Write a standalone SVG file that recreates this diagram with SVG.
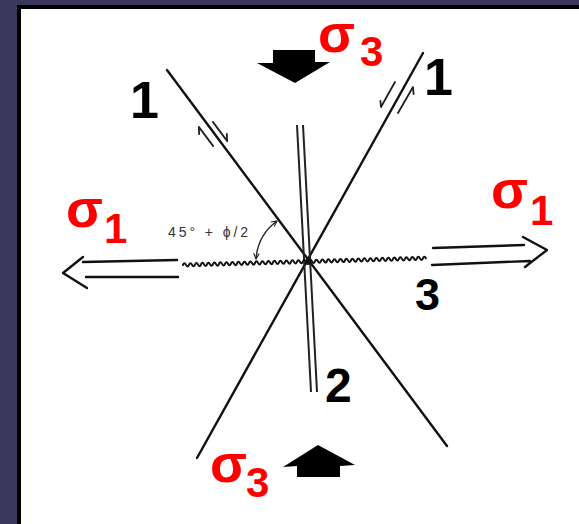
<svg xmlns="http://www.w3.org/2000/svg" width="579" height="524" viewBox="0 0 579 524">
<style>
.ln{stroke:#111;stroke-width:2.4;fill:none;stroke-linecap:round}
.dl{stroke:#222;stroke-width:2;fill:none}
.sl{stroke:#222;stroke-width:1.8;fill:none;stroke-linecap:round;stroke-linejoin:round}
.wv{stroke:#111;stroke-width:2;fill:none;stroke-linecap:round}
.ar{stroke:#111;stroke-width:2.4;fill:none;stroke-linecap:round;stroke-linejoin:round}
.sig{font-family:"Liberation Sans",Arial,sans-serif;font-weight:bold;fill:#ff0000}
.lab{font-family:"Liberation Sans",Arial,sans-serif;font-weight:bold;fill:#000}
.sm{font-family:"Liberation Sans",Arial,sans-serif;font-size:14px;fill:#333}
</style>
<defs>
<marker id="ah" viewBox="0 0 10 10" refX="9" refY="5" markerWidth="7" markerHeight="7" orient="auto-start-reverse" markerUnits="userSpaceOnUse">
<path d="M1,1 L9,5 L1,9" fill="none" stroke="#222" stroke-width="1.6"/>
</marker>
</defs>
<rect x="0" y="0" width="579" height="524" fill="#3a395b"/>
<rect x="17" y="5" width="600" height="600" fill="#000"/>
<rect x="21" y="9" width="600" height="600" fill="#fff"/>

<g id="connectors">
<line id="fault1a" class="ln" x1="167" y1="70" x2="447" y2="446"/>
<line id="fault1b" class="ln" x1="423" y1="53" x2="197" y2="458"/>
<g id="fault2">
<line class="dl" x1="297" y1="125" x2="311" y2="392"/>
<line class="dl" x1="303" y1="125" x2="317" y2="392"/>
</g>
<path id="fault3" class="wv" transform="translate(183,265) rotate(-1.6)" d="M0,0 q1.5,-3.2 3,0
t3,0 t3,0 t3,0 t3,0 t3,0 t3,0 t3,0 t3,0 t3,0 t3,0
t3,0 t3,0 t3,0 t3,0 t3,0 t3,0 t3,0 t3,0 t3,0 t3,0
t3,0 t3,0 t3,0 t3,0 t3,0 t3,0 t3,0 t3,0 t3,0 t3,0
t3,0 t3,0 t3,0 t3,0 t3,0 t3,0 t3,0 t3,0 t3,0 t3,0
t3,0 t3,0 t3,0 t3,0 t3,0 t3,0 t3,0 t3,0 t3,0 t3,0
t3,0 t3,0 t3,0 t3,0 t3,0 t3,0 t3,0 t3,0 t3,0 t3,0
t3,0 t3,0 t3,0 t3,0 t3,0 t3,0 t3,0 t3,0 t3,0 t3,0
t3,0 t3,0 t3,0 t3,0 t3,0 t3,0 t3,0 t3,0 t3,0 t3,0"/>
<circle cx="308" cy="262" r="3" fill="#111"/>
<g id="slip">
<path class="sl" d="M212.8,121.9 L227.2,141.1 L226.8,133.9"/>
<path class="sl" d="M213.2,146.1 L198.8,126.9 L199.2,134.1"/>
<path class="sl" d="M395,82 L381,107 L380.4,100.9"/>
<path class="sl" d="M398,113 L413,87 L413.6,94.1"/>
</g>
<path id="angle" d="M277,221 A52,52 0 0 0 256,259" fill="none" stroke="#222" stroke-width="1.4" marker-start="url(#ah)" marker-end="url(#ah)"/>
</g>

<g id="sigma1-left">
<path class="ar" d="M177,260 L83,262 M178,277 L86,277 M83,257 L63,273 L87,288"/>
</g>
<g id="sigma1-right">
<path class="ar" d="M433,248 L524,245 M432,265 L530,261 M523,237 L547,250 L525,267"/>
</g>
<g id="sigma3-top">
<path d="M273,50 L315,50 L315,62 L330,62 L295,83 L257,63 L273,63 Z" fill="#000"/>
</g>
<g id="sigma3-bottom">
<path d="M297,477 L340,477 L340,466 L355,465 L318,445 L283,467 L297,466 Z" fill="#000"/>
</g>

<g id="labels">
<text class="sig" x="318" y="52" font-size="54">σ</text><text class="sig" x="360" y="66" font-size="42">3</text>
<text class="sig" x="66" y="227" font-size="54">σ</text><text class="sig" x="104" y="243" font-size="42">1</text>
<text class="sig" x="491" y="208" font-size="54">σ</text><text class="sig" x="530" y="225" font-size="42">1</text>
<text class="sig" x="210" y="482" font-size="54">σ</text><text class="sig" x="246" y="497" font-size="42">3</text>
<text class="lab" x="130" y="118" font-size="52">1</text>
<text class="lab" x="424" y="95" font-size="52">1</text>
<text class="lab" x="325" y="402" font-size="48">2</text>
<text class="lab" x="415" y="310" font-size="45">3</text>
<text class="sm" x="168" y="237" textLength="80" lengthAdjust="spacing">45° + ϕ/2</text>
</g>
</svg>
